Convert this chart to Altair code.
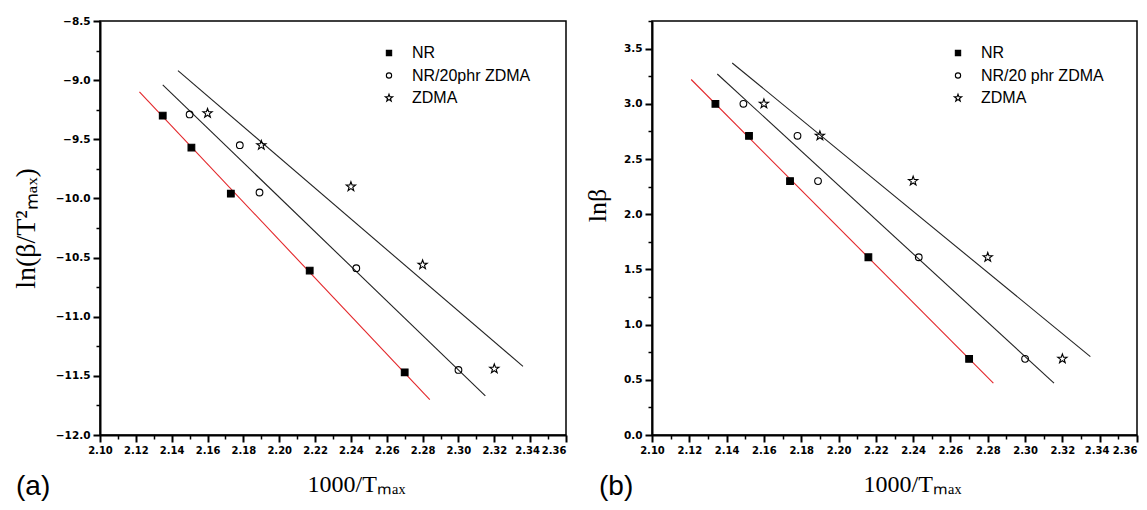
import altair as alt
import pandas as pd

# ---------------- data ----------------
names_a = ["NR", "NR/20phr ZDMA", "ZDMA"]
names_b = ["NR", "NR/20 phr ZDMA", "ZDMA"]

# panel (a): ln(beta/Tmax^2) vs 1000/Tmax
nr_x_a = [2.135, 2.151, 2.173, 2.217, 2.270]
nr_y_a = [-9.30, -9.57, -9.96, -10.61, -11.47]
blend_x_a = [2.150, 2.178, 2.189, 2.243, 2.300]
blend_y_a = [-9.29, -9.55, -9.95, -10.59, -11.45]
zdma_x_a = [2.160, 2.190, 2.240, 2.280, 2.320]
zdma_y_a = [-9.28, -9.55, -9.90, -10.56, -11.44]

# panel (b): ln(beta) vs 1000/Tmax
nr_x_b = [2.134, 2.152, 2.174, 2.216, 2.270]
nr_y_b = [3.00, 2.71, 2.30, 1.61, 0.69]
blend_x_b = [2.149, 2.178, 2.189, 2.243, 2.300]
blend_y_b = [3.00, 2.71, 2.30, 1.61, 0.69]
zdma_x_b = [2.160, 2.190, 2.240, 2.280, 2.320]
zdma_y_b = [3.00, 2.71, 2.30, 1.61, 0.69]

# fitted straight lines (start and end points), order: NR, blend, ZDMA
fit_x1_a = [2.122, 2.135, 2.1435]
fit_y1_a = [-9.10, -9.04, -8.92]
fit_x2_a = [2.284, 2.315, 2.336]
fit_y2_a = [-11.70, -11.67, -11.42]
fit_x1_b = [2.121, 2.135, 2.143]
fit_y1_b = [3.22, 3.27, 3.37]
fit_x2_b = [2.283, 2.3155, 2.335]
fit_y2_b = [0.47, 0.47, 0.71]

# axis ticks
x_major = [2.10, 2.12, 2.14, 2.16, 2.18, 2.20, 2.22, 2.24, 2.26, 2.28,
           2.30, 2.32, 2.34, 2.36]
x_minor = [2.11, 2.13, 2.15, 2.17, 2.19, 2.21, 2.23, 2.25, 2.27, 2.29,
           2.31, 2.33, 2.35]
y_major_a = [-12.0, -11.5, -11.0, -10.5, -10.0, -9.5, -9.0, -8.5]
y_minor_a = [-11.75, -11.25, -10.75, -10.25, -9.75, -9.25, -8.75]
y_major_b = [0.0, 0.5, 1.0, 1.5, 2.0, 2.5, 3.0, 3.5]
y_minor_b = [0.25, 0.75, 1.25, 1.75, 2.25, 2.75, 3.25, 3.75]

STAR = ("M0,-1.45L0.34,-0.47L1.38,-0.45L0.55,0.18L0.85,1.17L0,0.58"
        "L-0.85,1.17L-0.55,0.18L-1.38,-0.45L-0.34,-0.47Z")


def points_df(names, xs, ys):
    rows = []
    for n, xv, yv in zip(names, xs, ys):
        for a, b in zip(xv, yv):
            rows.append({"s": n, "x": a, "y": b})
    return pd.DataFrame(rows)


def fits_df(names, x1, y1, x2, y2):
    return pd.DataFrame({"s": names, "x": x1, "y": y1, "x2": x2, "y2": y2})


def panel(names, pts, fits, ydom, ymajor, yminor, ytitle, legx, tag, tagdx,
          width, ytitle_pad, ytitle_size, ytitle_y, xtitle_x):
    xscale = alt.Scale(domain=[2.10, 2.36], nice=False, zero=False)
    yscale = alt.Scale(domain=ydom, nice=False, zero=False)
    xaxis = alt.Axis(values=x_major, format=".2f", title="1000/Tₘₐₓ", orient="bottom",
                     labelOverlap=False, labelFlush=False, ticks=True, tickSize=7,
                     tickColor="black", tickWidth=2, tickOpacity=1,
                     labelFontSize=10,
                     labelAlign={"condition": {"test": "datum.value > 2.355", "value": "right"},
                                 "value": "center"},
                     labelOffset={"condition": {"test": "datum.value > 2.335 && datum.value < 2.355",
                                                "value": -3}, "value": 0},
                     titlePadding=17, titleX=xtitle_x, titleFontSize=24)
    yaxis_kw = dict(values=ymajor, format=".1f", title=ytitle, orient="left",
                    labelOverlap=False, labelFlush=False, ticks=True, tickSize=7,
                    tickColor="black", tickWidth=2, tickOpacity=1,
                    titlePadding=ytitle_pad, titleFontSize=ytitle_size)
    if ytitle_y is not None:
        yaxis_kw["titleY"] = ytitle_y
    yaxis = alt.Axis(**yaxis_kw)
    xminor = alt.Axis(values=x_minor, labels=False, domain=False, title=None,
                      orient="bottom", ticks=True, tickSize=4,
                      tickColor="black", tickWidth=1.5, tickOpacity=1)
    yminor_ax = alt.Axis(values=yminor, labels=False, domain=False, title=None,
                         orient="left", ticks=True, tickSize=4,
                         tickColor="black", tickWidth=1.5, tickOpacity=1)
    shape_scale = alt.Scale(domain=names, range=["square", "circle", STAR])
    fill_scale = alt.Scale(domain=names, range=["black", "transparent", "transparent"])

    lines = alt.Chart(fits).mark_rule(strokeWidth=1.1).encode(
        x=alt.X("x:Q", scale=xscale, axis=xaxis),
        y=alt.Y("y:Q", scale=yscale, axis=yaxis),
        x2="x2:Q", y2="y2:Q",
        color=alt.Color("s:N", scale=alt.Scale(domain=names, range=["#e3262a", "#222222", "#222222"]), legend=None),
    )
    pts_layer = alt.Chart(pts).mark_point(size=45, stroke="black", strokeWidth=1.1, opacity=1).encode(
        x=alt.X("x:Q", scale=xscale, axis=xminor),
        y=alt.Y("y:Q", scale=yscale, axis=yminor_ax),
        shape=alt.Shape("s:N", scale=shape_scale, legend=None),
        fill=alt.Fill("s:N", scale=fill_scale, legend=None),
    )
    leg_df = pd.DataFrame({"s": names, "row": [0, 1, 2]})
    row_scale = alt.Scale(domain=[0, 2], range=[32, 77])
    leg_sym = alt.Chart(leg_df).mark_point(size=28, stroke="black", strokeWidth=1.1, opacity=1).encode(
        x=alt.value(legx),
        y=alt.Y("row:Q", scale=row_scale, axis=None),
        shape=alt.Shape("s:N", scale=shape_scale, legend=None),
        fill=alt.Fill("s:N", scale=fill_scale, legend=None),
    )
    leg_txt = alt.Chart(leg_df).mark_text(align="left", baseline="middle",
                                          font="Liberation Sans", fontSize=16,
                                          color="black").encode(
        x=alt.value(legx + 23),
        y=alt.Y("row:Q", scale=row_scale, axis=None),
        text="s:N",
    )
    tag_layer = alt.Chart(pd.DataFrame({"t": [tag]})).mark_text(
        align="left", baseline="middle", font="Liberation Sans", fontSize=28, color="black"
    ).encode(text="t:N", x=alt.value(tagdx), y=alt.value(466))
    return alt.layer(lines, pts_layer, leg_sym, leg_txt, tag_layer).resolve_scale(
        y="independent"
    ).resolve_axis(x="independent", y="independent").properties(width=width, height=414)


pa = panel(names_a, points_df(names_a, [nr_x_a, blend_x_a, zdma_x_a], [nr_y_a, blend_y_a, zdma_y_a]),
           fits_df(names_a, fit_x1_a, fit_y1_a, fit_x2_a, fit_y2_a),
           [-12.0, -8.5], y_major_a, y_minor_a, "ln(β/T²ₘₐₓ)", 289, "(a)", -84, 466,
           15, 28, None, 256)
pb = panel(names_b, points_df(names_b, [nr_x_b, blend_x_b, zdma_x_b], [nr_y_b, blend_y_b, zdma_y_b]),
           fits_df(names_b, fit_x1_b, fit_y1_b, fit_x2_b, fit_y2_b),
           [0.0, 3.75], y_major_b, y_minor_b, "lnβ", 306, "(b)", -53, 485,
           13, 26, 184, 260)

chart = alt.hconcat(pa, pb, spacing=15).resolve_scale(
    x="independent", y="independent", color="independent",
    shape="independent", fill="independent",
).properties(
    padding={"left": 3, "top": 7, "right": 0, "bottom": 0}
).configure(background="white").configure_view(
    stroke="black", strokeWidth=1.5
).configure_axis(
    domainColor="black", domainWidth=2, tickColor="black", tickWidth=2,
    labelFont="DejaVu Sans", labelFontWeight="bold", labelFontSize=10.5, labelColor="black",
    labelPadding=3, titleFont="Liberation Serif", titleFontWeight="normal",
    titleFontSize=24, titleColor="black", grid=False,
)

chart.save("out.html", embed_options={"renderer": "svg", "actions": False})
